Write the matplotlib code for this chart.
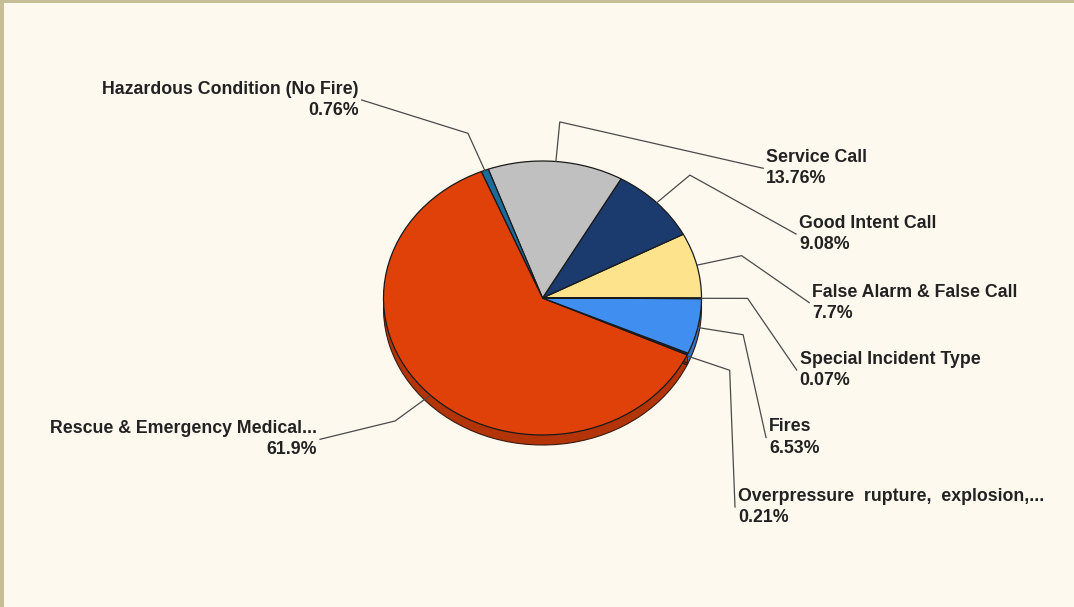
import numpy as np
import matplotlib
matplotlib.use("Agg")
import matplotlib.pyplot as plt
from matplotlib.patches import Rectangle
from matplotlib.colors import to_rgb

# ---- data (counter-clockwise from 3 o'clock) ----
categories = ["False Alarm & False Call", "Good Intent Call", "Service Call",
              "Hazardous Condition (No Fire)", "Rescue & Emergency Medical...",
              "Overpressure  rupture,  explosion,...", "Fires", "Special Incident Type"]
values = [7.7, 9.08, 13.76, 0.76, 61.9, 0.21, 6.53, 0.07]
colors = ["#fde38c", "#1b3a6e", "#c0c0c0", "#1a6c9c", "#e04108", "#1b2a4a", "#3f8ef0", "#5a9a3a"]

# ---- layout (pixels) ----
W, H = 1074, 607
cx, cy, rx, ry = 542.5, 298.0, 159.0, 137.0
depth = 10
elbow_r = 1.29
# label line end points and side
label_ends = [(809.3, 302.7, "L"), (796.0, 234.0, "L"), (763.3, 168.3, "L"),
              (361.7, 100.0, "R"), (320.0, 439.3, "R"), (735.0, 507.0, "L"),
              (766.0, 437.5, "L"), (796.7, 370.0, "L")]

bg = "#fdf9ee"
fig = plt.figure(figsize=(W / 100, H / 100), dpi=100, facecolor=bg)

# ---- pie axes (elliptical via non-equal aspect) ----
du = depth / ry
axp = fig.add_axes([(cx - rx) / W, (H - cy - ry - depth) / H, 2 * rx / W, (2 * ry + depth) / H])
axp.set_facecolor("none")
dark = [tuple(c * 0.8 for c in to_rgb(col)) for col in colors]
for d in range(depth, 0, -1):
    axp.pie(values, colors=dark, startangle=0, counterclock=True, center=(0, -d / ry),
            wedgeprops=dict(linewidth=0, edgecolor="none"), normalize=True)
axp.pie(values, colors=["none"] * len(values), startangle=0, counterclock=True, center=(0, -du),
        wedgeprops=dict(linewidth=0.8, edgecolor="#3a1a10", fill=False), normalize=True)
axp.pie(values, colors=colors, startangle=0, counterclock=True, center=(0, 0),
        wedgeprops=dict(linewidth=0.9, edgecolor="#1a1a1a"), normalize=True)
axp.set_aspect("auto")
axp.set_xlim(-1, 1)
axp.set_ylim(-1 - du, 1)
axp.axis("off")

# ---- overlay axes in pixel coordinates ----
ax = fig.add_axes([0, 0, 1, 1])
ax.set_facecolor("none")
ax.set_xlim(0, W)
ax.set_ylim(H, 0)
ax.axis("off")
ax.add_patch(Rectangle((0, 0), W, 3, color="#c5bd96", lw=0))
ax.add_patch(Rectangle((0, 0), 4, H, color="#c5bd96", lw=0))

tot = sum(values)
start = 0.0
for name, v, (ex, ey, side) in zip(categories, values, label_ends):
    span = 360.0 * v / tot
    mid = np.radians(start + span / 2)
    start += span
    c, s = np.cos(mid), np.sin(mid)
    ax_ = cx + rx * c
    ay_ = cy - ry * s + (0.5 * depth * (-s) if s < 0 else 0)
    bx = cx + elbow_r * rx * c
    by = cy - elbow_r * ry * s
    ax.plot([ax_, bx, ex], [ay_, by, ey], color="#4a4a4a", lw=0.9, solid_joinstyle="miter")
    txt = f"{name}\n{v:g}%"
    kw = dict(va="center", fontsize=12.8, fontweight="bold", family="Liberation Sans",
              color="#222222", linespacing=1.32)
    if side == "L":
        ax.text(ex + 3, ey, txt, ha="left", multialignment="left", **kw)
    else:
        ax.text(ex - 3, ey, txt, ha="right", multialignment="right", **kw)

fig.savefig("out.png", dpi=100, facecolor=bg)
